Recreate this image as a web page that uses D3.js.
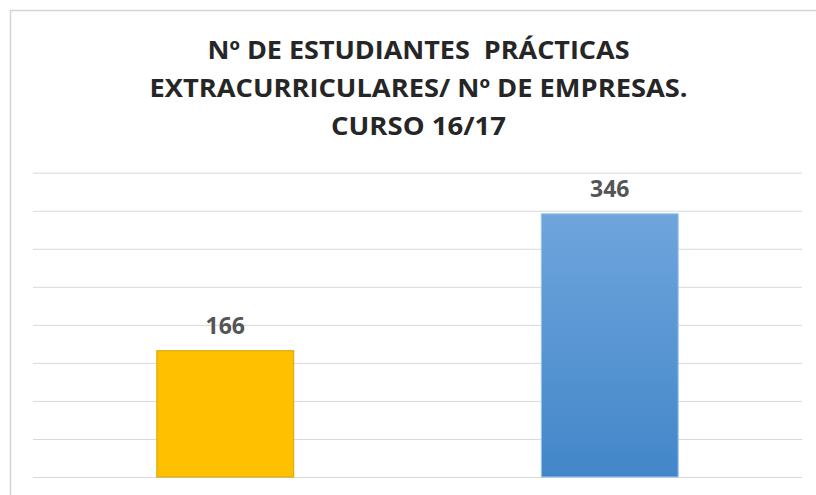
<!DOCTYPE html>
<html>
<head>
<meta charset="utf-8">
<script src="https://cdn.jsdelivr.net/npm/d3@7/dist/d3.min.js"></script>
<style>
  html, body { margin: 0; padding: 0; background: #fff; }
  svg { display: block; }
  text { white-space: pre; }
</style>
</head>
<body>
<svg id="chart" width="816" height="495"></svg>
<script>
// ---- data ----
const categories = ["Nº de estudiantes", "Nº de empresas"];
const values = [166, 346];
const yTicks = [0, 50, 100, 150, 200, 250, 300, 350, 400];
const titleLines = ["Nº DE ESTUDIANTES  PRÁCTICAS", "EXTRACURRICULARES/ Nº DE EMPRESAS.", "CURSO 16/17"];

// ---- layout ----
const svg = d3.select("#chart");
const plot = { left: 33, right: 802, top: 172.7, bottom: 477 };

// frame
svg.append("rect")
  .attr("x", 10.5).attr("y", 10.5)
  .attr("width", 830).attr("height", 520)
  .attr("fill", "#fff")
  .attr("stroke", "#d4d4d4").attr("stroke-width", 1.5);

// title
const titleBaselines = [58.5, 96.5, 135];
const titleWidths = [422, 538, 175];
svg.append("g").selectAll("text")
  .data(titleLines)
  .join("text")
  .attr("x", 418.5)
  .attr("y", (d, i) => titleBaselines[i])
  .attr("text-anchor", "middle")
  .attr("font-family", "'Open Sans', 'DejaVu Sans', sans-serif")
  .attr("font-weight", "bold")
  .attr("font-size", 25.5)
  .attr("fill", "#262626")
  .attr("textLength", (d, i) => titleWidths[i])
  .attr("lengthAdjust", "spacingAndGlyphs")
  .text(d => d);

// scales
const x = d3.scaleBand()
  .domain(categories)
  .range([plot.left, plot.right])
  .paddingInner(0.644)
  .paddingOuter(0.322);

const y = d3.scaleLinear()
  .domain([0, 400])
  .range([plot.bottom, plot.top]);

// gridlines via axis
const grid = svg.append("g")
  .attr("transform", `translate(${plot.left},0)`)
  .call(d3.axisLeft(y)
    .tickValues(yTicks)
    .tickSize(-(plot.right - plot.left))
    .tickFormat(""));
grid.select(".domain").remove();
grid.selectAll(".tick line")
  .attr("stroke", "#d9d9d9")
  .attr("stroke-width", 1);

// gradient for blue bar
const defs = svg.append("defs");
const grad = defs.append("linearGradient")
  .attr("id", "blueGrad")
  .attr("x1", 0).attr("y1", 0).attr("x2", 0).attr("y2", 1);
grad.append("stop").attr("offset", "0%").attr("stop-color", "#6fa5dd");
grad.append("stop").attr("offset", "100%").attr("stop-color", "#4286c9");

const fills = ["#ffc000", "url(#blueGrad)"];
const strokes = ["#d9a300", "#9cc6ee"];

// bars
svg.append("g").selectAll("rect")
  .data(values)
  .join("rect")
  .attr("x", (d, i) => x(categories[i]))
  .attr("y", d => y(d))
  .attr("width", x.bandwidth())
  .attr("height", d => y(0) - y(d))
  .attr("fill", (d, i) => fills[i])
  .attr("stroke", (d, i) => strokes[i])
  .attr("stroke-width", 1);

// data labels
svg.append("g").selectAll("text")
  .data(values)
  .join("text")
  .attr("x", (d, i) => x(categories[i]) + x.bandwidth() / 2)
  .attr("y", d => y(d) - 17)
  .attr("text-anchor", "middle")
  .attr("font-family", "'Open Sans', 'DejaVu Sans', sans-serif")
  .attr("font-weight", "bold")
  .attr("font-size", 23)
  .attr("fill", "#555555")
  .text(d => d);
</script>
</body>
</html>
